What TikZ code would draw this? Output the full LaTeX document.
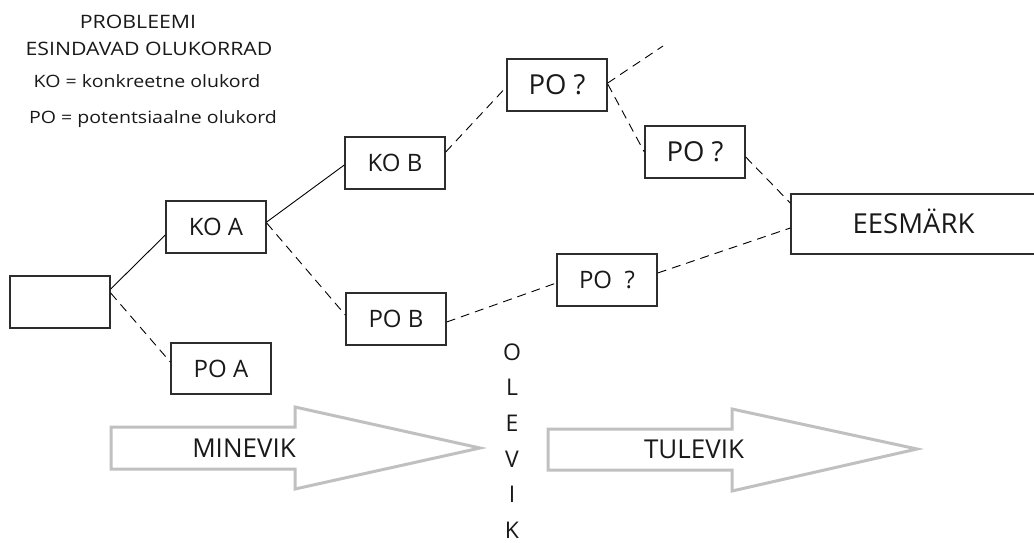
\documentclass[tikz,border=0pt]{standalone}
\usepackage{fontspec}
\setmainfont{Open Sans}
\newfontfamily\widesans[FakeStretch=1.15]{Open Sans}
\usepackage{xcolor}
\definecolor{inkgray}{RGB}{25,25,25}
\definecolor{boxline}{RGB}{45,45,45}
\definecolor{arrowgray}{RGB}{192,192,192}
\usetikzlibrary{positioning}

\tikzset{
  sitbox/.style={draw=boxline,line width=1.4pt,minimum width=100pt,minimum height=52pt,inner sep=0pt,
    text=inkgray,font=\fontsize{24}{24}\selectfont,text height=17pt,text depth=0pt},
  bigbox/.style={sitbox,font=\fontsize{27.5}{27.5}\selectfont,text height=19.6pt},
  concrete/.style={draw=black,line width=0.9pt},
  potential/.style={draw=black,line width=0.9pt,dash pattern=on 9pt off 6pt},
  timearrow/.style={draw=arrowgray,line width=3pt,line join=miter},
  timelabel/.style={text=inkgray,font=\fontsize{26}{26}\selectfont,inner sep=0pt,text height=19pt,text depth=0pt},
  heading/.style={text=inkgray,font=\widesans\fontsize{18.5}{18.5}\selectfont,anchor=base,inner sep=0pt},
  legend/.style={text=inkgray,font=\widesans\fontsize{17}{17}\selectfont,anchor=base,inner sep=0pt},
}

\begin{document}
\begin{tikzpicture}[x=1pt,y=-1pt]
\useasboundingbox (0,0) rectangle (1034,542);
\clip (0,0) rectangle (1034,542);

% heading and legend
\node[heading] (title1) at (138,28) {PROBLEEMI};
\node[heading] (title2) at (149,55) {ESINDAVAD OLUKORRAD};
\node[legend] (legendKO) at (147,87) {KO = konkreetne olukord};
\node[legend] (legendPO) at (153,123) {PO = potentsiaalne olukord};

% situations
\node[sitbox] (start) at (60,302) {};
\node[sitbox] (koA) at (216,227) {KO A};
\node[sitbox,minimum height=51pt] (poA) at (221,368.5) {PO A};
\node[sitbox] (koB) at (395,163) {KO B};
\node[sitbox] (poB) at (396,319) {PO B};
\node[bigbox] (poq1) at (557,85) {PO ?};
\node[bigbox] (poq2) at (695,152) {PO ?};
\node[sitbox] (poq3) at (607,280) {PO\ \ ?};
\node[bigbox,minimum width=245pt,minimum height=60pt] (goal) at (913.5,224) {EESMÄRK};
\coordinate (loose) at (663,46);

% connectors
\draw[concrete] ([yshift=13pt]start.east) -- ([yshift=-8pt]koA.west);
\draw[potential] ([yshift=9pt]start.east) -- ([yshift=6.5pt]poA.west);
\draw[concrete] ([yshift=5pt]koA.east) -- ([yshift=-2pt]koB.west);
\draw[potential] ([yshift=4pt]koA.east) -- ([yshift=4pt]poB.west);
\draw[potential] ([yshift=11pt]koB.east) -- ([yshift=-2pt]poq1.west);
\draw[potential] ([yshift=2pt]poq1.east) -- (loose);
\draw[potential] ([yshift=1pt]poq1.east) -- (poq2.west);
\draw[potential] ([yshift=-5pt]poq2.east) -- ([yshift=21pt]goal.west);
\draw[potential] ([yshift=-3pt]poB.east) -- ([yshift=-3pt]poq3.west);
\draw[potential] ([yshift=7pt]poq3.east) -- ([yshift=-4pt]goal.west);

% time
\draw[timearrow] (111,427) -- (295,427) -- (295,407) -- (480,448) -- (295,489) -- (295,469) -- (111,469) -- cycle;
\node[timelabel] (minevik) at (244,448) {MINEVIK};
\draw[timearrow] (548,429) -- (732,429) -- (732,409) -- (917,449) -- (732,491) -- (732,470) -- (548,470) -- cycle;
\node[timelabel] (tulevik) at (694,449) {TULEVIK};
\node[text=inkgray,font=\fontsize{23}{35.6}\selectfont,align=center,inner sep=0pt] (olevik) at (512,441) {O\\L\\E\\V\\I\\K};
\end{tikzpicture}
\end{document}
